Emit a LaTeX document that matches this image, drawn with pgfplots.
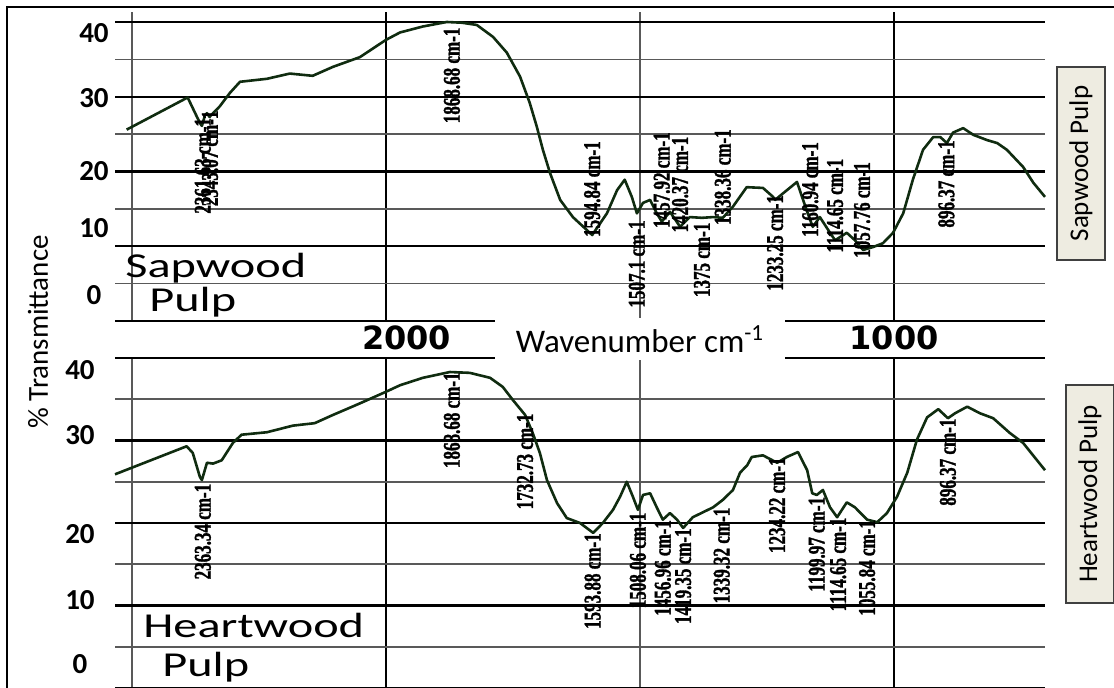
\documentclass[border=0pt]{standalone}
\usepackage{fontspec}
\setmainfont{Carlito}
\newfontfamily\pk[FakeStretch=0.71,FakeBold=1.3]{Liberation Serif}
\newfontfamily\widecal[FakeStretch=1.38]{Carlito}
\newfontfamily\dvs{DejaVu Sans}
\usepackage{pgfplots}
\pgfplotsset{compat=1.18}
\definecolor{curve}{RGB}{16,44,16}
\definecolor{boxfill}{RGB}{238,236,225}
\pgfplotsset{
  ftir/.style={
    scale only axis, width=465pt, xmin=703, xmax=2533, x dir=reverse,
    clip=false,
    axis line style={draw=none}, tick style={draw=none},
    xtick={1000,2000}, minor xtick={1500,2500}, xticklabels={},
    ytick={0,10,...,40}, minor ytick={5,15,25,35}, yticklabels={},
    grid=both,
    major grid style={black, line width=1.2pt},
    minor grid style={black!65, line width=0.85pt},
    extra y tick style={grid=none, yticklabel style={anchor=center, inner sep=0pt,
        font=\fontsize{14.5}{15}\selectfont\bfseries}},
  },
  spec/.style={color=curve, line width=1.3pt, line join=round, mark=none},
}
\tikzset{
  pku/.style={rotate=90, anchor=west, inner sep=0pt, font=\pk\bfseries\fontsize{12}{12}\selectfont},
  pkd/.style={rotate=90, anchor=east, inner sep=0pt, font=\pk\bfseries\fontsize{12}{12}\selectfont},
}
\begin{document}
\begin{tikzpicture}
\useasboundingbox (0,0) rectangle (557pt,344pt);
% ---------------- bottom panel: Heartwood pulp
\begin{axis}[ftir, at={(57.5pt,0pt)}, anchor=south west, height=165pt, ymin=0, ymax=40,
  extra y ticks={2.85,10.7,18.7,30.6,38.5}, extra y tick labels={0,10,20,30,40},
  extra y tick style={yticklabel style={xshift=-17.5pt}},
  ylabel={\% Transmittance},
  ylabel style={at={(axis description cs:-0.0828,1.079)}, anchor=center, font=\fontsize{14.5}{16}\selectfont},
]
\addplot[spec] coordinates {
(2533,25.9) (2392,29.3) (2380,28.5) (2366,25.6) (2362,25.2) (2352,27.3) (2340,27.2)
(2323,27.6) (2301,29.7) (2284,30.7) (2234,31.0) (2183,31.8) (2140,32.1) (2104,33.1)
(2051,34.5) (2000,35.9) (1972,36.7) (1927,37.6) (1874,38.3) (1835,38.2) (1795,37.6)
(1770,36.5) (1750,34.9) (1726,33.1) (1711,30.9) (1697,28.5) (1683,25.2) (1663,22.4)
(1644,20.6) (1618,20.0) (1592,18.8) (1573,20.0) (1553,21.6) (1539,23.2) (1526,25.0)
(1514,23.2) (1504,21.6) (1494,23.4) (1480,23.6) (1467,21.9) (1455,20.4) (1441,21.2)
(1427,20.4) (1415,19.4) (1396,20.7) (1376,21.3) (1356,21.9) (1337,22.8) (1317,24.0)
(1303,26.1) (1289,27.0) (1280,28.0) (1258,28.2) (1230,27.3) (1211,28.0) (1189,28.6)
(1171,26.4) (1161,23.6) (1152,23.4) (1140,24.0) (1126,21.9) (1112,20.7) (1093,22.5)
(1077,21.9) (1053,20.4) (1033,20.1) (1014,21.2) (994,23.2) (974,26.1) (955,30.1)
(935,32.8) (913,33.8) (894,32.7) (880,33.3) (856,34.1) (831,33.3) (805,32.7)
(772,30.9) (746,29.7) (703,26.4)
};
\node[pkd] at (axis cs:2360,24.8) {2363.34 cm-1};
\node[pkd] at (axis cs:1870,38.3) {1868.68 cm-1};
\node[pkd] at (axis cs:1726,33.3) {1732.73 cm-1};
\node[pkd] at (axis cs:1593,18.8) {1593.88 cm-1};
\node[pkd] at (axis cs:1504,21.3) {1508.06 cm-1};
\node[pkd] at (axis cs:1455,20.4) {1456.96 cm-1};
\node[pkd] at (axis cs:1415,19.4) {1419.35 cm-1};
\node[pkd] at (axis cs:1339,21.9) {1339.32 cm-1};
\node[pkd] at (axis cs:1230,28.0) {1234.22 cm-1};
\node[pkd] at (axis cs:1152,23.2) {1199.97 cm-1};
\node[pkd] at (axis cs:1110,20.7) {1114.65 cm-1};
\node[pkd] at (axis cs:1053,20.4) {1055.84 cm-1};
\node[pkd] at (axis cs:894,32.7) {896.37 cm-1};
\end{axis}
% ---------------- top panel: Sapwood pulp
\begin{axis}[ftir, at={(57.5pt,183.5pt)}, anchor=south west, height=154.73pt, ymin=0, ymax=41.4,
  extra y ticks={3.5,12.4,20.0,29.8,38.5}, extra y tick labels={0,10,20,30,40},
  extra y tick style={yticklabel style={xshift=-10.5pt}},
  extra x ticks={1959,1000}, extra x tick labels={2000,1000},
  extra x tick style={grid=none, xticklabel style={anchor=center, yshift=-8.5pt,
      font=\dvs\bfseries\fontsize{16}{16}\selectfont}},
  xlabel={Wavenumber cm\textsuperscript{-1}},
  xlabel style={at={(axis description cs:0.5645,0)}, anchor=center, yshift=-9pt, fill=white,
      inner sep=0pt, minimum width=145pt, minimum height=21pt, font=\fontsize{16.5}{18}\selectfont},
]
\addplot[spec] coordinates {
(2510,25.6) (2390,29.9) (2366,26.5) (2362,26.1) (2356,27.5) (2352,27.8) (2347,27.3)
(2327,28.7) (2307,30.5) (2287,32.0) (2234,32.4) (2189,33.1) (2144,32.8) (2104,34.0)
(2051,35.3) (2000,37.6) (1972,38.6) (1927,39.4) (1880,40.0) (1850,39.9) (1821,39.6)
(1789,38.0) (1762,35.9) (1736,32.7) (1717,29.2) (1703,26.0) (1691,22.9) (1677,19.8)
(1657,16.2) (1632,13.9) (1594,11.5) (1565,14.4) (1545,17.5) (1530,18.9) (1516,16.6)
(1506,14.4) (1494,15.8) (1480,16.2) (1467,14.4) (1457,13.3) (1441,14.6) (1421,12.6)
(1402,13.9) (1378,13.8) (1356,13.9) (1337,13.8) (1317,15.3) (1290,17.9) (1258,17.8)
(1238,16.6) (1234,16.2) (1218,17.1) (1191,18.6) (1179,16.2) (1165,13.5) (1160,12.6)
(1146,13.9) (1126,11.8) (1116,10.8) (1093,11.8) (1077,10.8) (1061,9.5) (1041,9.9)
(1022,10.4) (1002,11.8) (982,14.4) (963,18.9) (943,22.9) (923,24.6) (909,24.6)
(896,23.8) (884,25.2) (864,25.8) (844,24.9) (817,24.2) (797,23.8) (778,22.9)
(746,20.6) (726,18.5) (703,16.6)
};
\node[pkd] at (axis cs:2360,27.2) {2361.63 cm-1};
\node[pkd] at (axis cs:2346,28.2) {2343.07 cm-1};
\node[pkd] at (axis cs:1870,39.3) {1868.68 cm-1};
\node[pku] at (axis cs:1594,11.2) {1594.84 cm-1};
\node[pkd] at (axis cs:1506,13.5) {1507.1 cm-1};
\node[pku] at (axis cs:1457,12.4) {1457.92 cm-1};
\node[pku] at (axis cs:1421,11.8) {1420.37 cm-1};
\node[pkd] at (axis cs:1378,13.2) {1375 cm-1};
\node[pku] at (axis cs:1337,12.8) {1338.36 cm-1};
\node[pkd] at (axis cs:1234,16.9) {1233.25 cm-1};
\node[pku] at (axis cs:1165,11.2) {1160.94 cm-1};
\node[pku] at (axis cs:1116,9.1) {1114.65 cm-1};
\node[pku] at (axis cs:1063,8.4) {1057.76 cm-1};
\node[pkd] at (axis cs:897,24.2) {896.37 cm-1};
\end{axis}
% ---------------- panel names and frame
\node[anchor=base west, inner sep=0pt, font=\widecal\fontsize{17.5}{17}\selectfont] at (62.5pt,205pt) {Sapwood};
\node[anchor=base west, inner sep=0pt, font=\widecal\fontsize{17.5}{17}\selectfont] at (74.5pt,188pt) {Pulp};
\node[anchor=base west, inner sep=0pt, font=\widecal\fontsize{17.5}{17}\selectfont] at (71.5pt,25pt) {Heartwood};
\node[anchor=base west, inner sep=0pt, font=\widecal\fontsize{17.5}{17}\selectfont] at (81pt,5.5pt) {Pulp};
\node[rotate=90, draw=black!75, line width=0.6pt, fill=boxfill, minimum width=96.5pt, minimum height=24pt,
  inner sep=0pt, font=\fontsize{13.5}{14}\selectfont] at (540.5pt,262.25pt) {Sapwood Pulp};
\node[rotate=90, draw=black!75, line width=0.6pt, fill=boxfill, minimum width=109pt, minimum height=24pt,
  inner sep=0pt, font=\fontsize{13.5}{14}\selectfont] at (545pt,97pt) {Heartwood Pulp};
\draw[line width=1.2pt] (3.5pt,0pt) -- (3.5pt,340.5pt) -- (557pt,340.5pt);
\end{tikzpicture}
\end{document}
